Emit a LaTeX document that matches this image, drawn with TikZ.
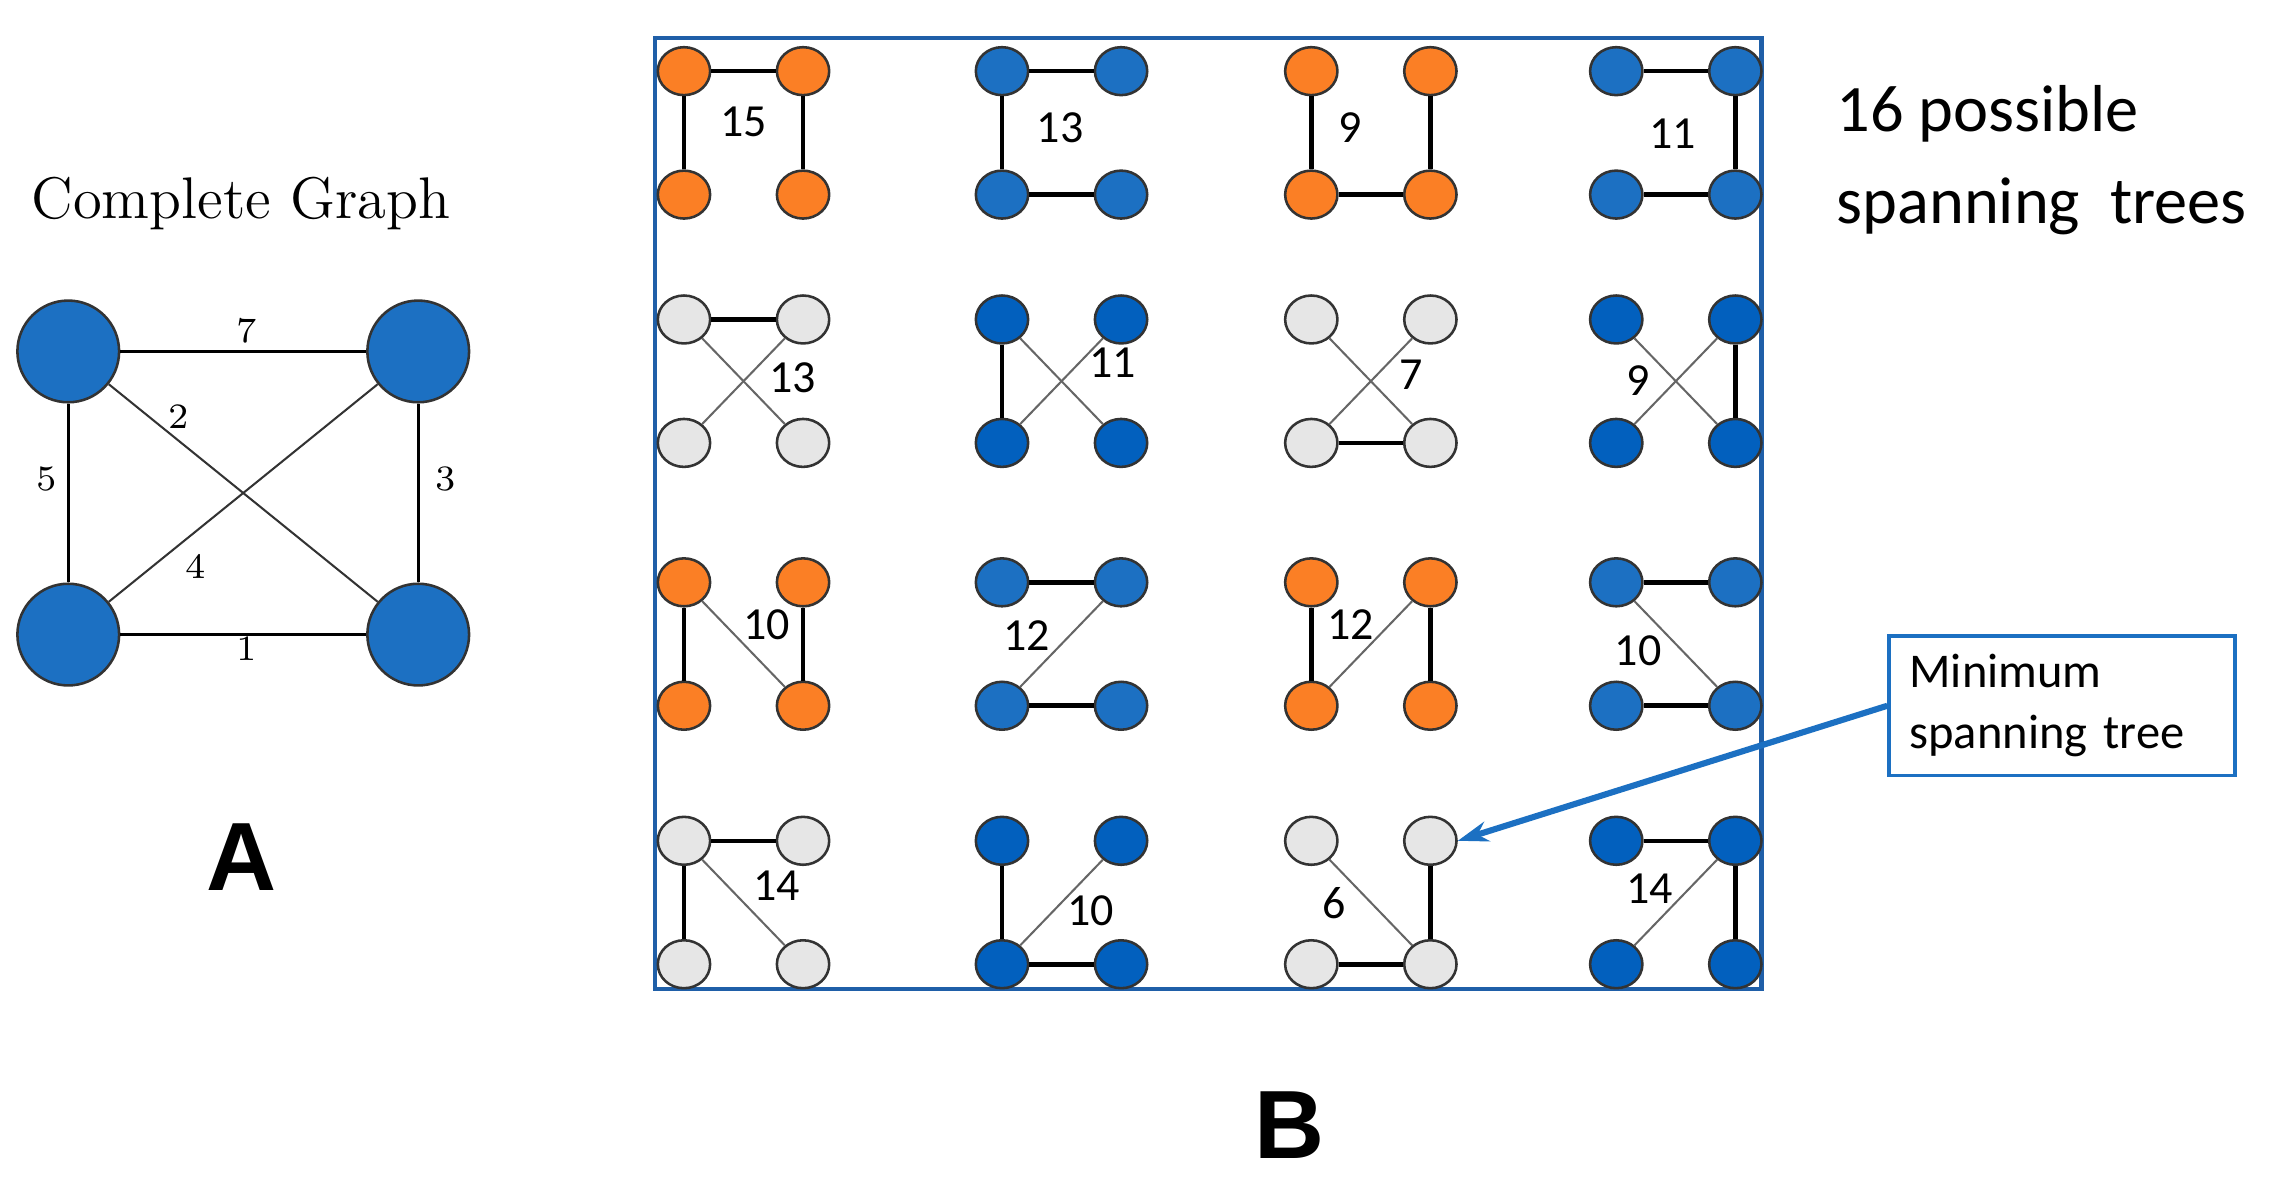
\documentclass[tikz,border=0pt]{standalone}
\usepackage{fontspec}
\usetikzlibrary{shapes.geometric,arrows.meta}
\newfontfamily\carl{Carlito}
\newfontfamily\lsans{Liberation Sans}
\definecolor{orng}{HTML}{FB7F25}
\definecolor{blu}{HTML}{1C70C2}
\definecolor{dblu}{HTML}{0260BE}
\definecolor{gry}{HTML}{E6E6E6}
\definecolor{frame}{HTML}{1F5FA8}
\tikzset{
  tn/.style={ellipse,draw=black!80,line width=0.5pt,minimum width=0.36cm,minimum height=0.33cm,inner sep=0pt},
  big/.style={circle,draw=black!80,fill=blu,line width=0.5pt,minimum size=0.7cm,inner sep=0pt},
  se/.style={black,line width=0.9pt},
  de/.style={black!60,line width=0.4pt},
  ce/.style={black,line width=0.5pt},
  wl/.style={font=\carl\fontsize{9}{10}\selectfont,inner sep=0pt},
  cl/.style={font=\fontsize{7}{8}\selectfont,inner sep=1pt}
}
\newcommand\sptree[6]{%
  \node[tn,fill=#4] (#1a) at (#2,-#3) {};
  \node[tn,fill=#4] (#1b) at (#2+82,-#3) {};
  \node[tn,fill=#4] (#1c) at (#2,-#3-85) {};
  \node[tn,fill=#4] (#1d) at (#2+82,-#3-85) {};
  \foreach \u/\v in {#5} {\draw[se] (#1\u) -- (#1\v);}
  \foreach \u/\v in {#6} {\draw[de] (#1\u) -- (#1\v);}
}
\begin{document}
\begin{tikzpicture}[x=0.01cm,y=0.01cm]
\useasboundingbox (0,0) rectangle (1568,-821.6);
% Panel A
\node[font=\fontsize{11.5}{13}\selectfont] (title) at (166,-140) {Complete Graph};
\node[big] (A1) at (47,-242) {};
\node[big] (A2) at (288,-242) {};
\node[big] (A3) at (47,-437) {};
\node[big] (A4) at (288,-437) {};
\draw[ce] (A1) -- (A2);
\draw[ce] (A1) -- (A3);
\draw[ce] (A2) -- (A4);
\draw[ce] (A3) -- (A4);
\draw[ce,black!80,line width=0.4pt] (A1) -- (A4);
\draw[ce,black!80,line width=0.4pt] (A3) -- (A2);
\node[cl] (l7) at (170,-228) {7};
\node[cl] (l5) at (32,-330) {5};
\node[cl] (l3) at (307,-330) {3};
\node[cl] (l1) at (170,-447) {1};
\node[cl] (l2) at (123,-287) {2};
\node[cl] (l4) at (135,-390) {4};
\node[font=\lsans\bfseries\fontsize{19}{20}\selectfont] (labA) at (166,-590) {A};
% Panel B frame
\draw[frame,line width=0.8pt] (451,-26) rectangle (1213,-681);
% Row 1
\sptree{p}{471}{49}{orng}{a/b,a/c,b/d}{}
\sptree{q}{690}{49}{blu}{a/b,a/c,c/d}{}
\sptree{r}{903}{49}{orng}{a/c,b/d,c/d}{}
\sptree{s}{1113}{49}{blu}{a/b,b/d,c/d}{}
% Row 2
\sptree{t}{471}{220}{gry}{a/b}{a/d,b/c}
\sptree{u}{690}{220}{dblu}{a/c}{a/d,b/c}
\sptree{v}{903}{220}{gry}{c/d}{a/d,b/c}
\sptree{w}{1113}{220}{dblu}{b/d}{a/d,b/c}
% Row 3
\sptree{x}{471}{401}{orng}{a/c,b/d}{a/d}
\sptree{y}{690}{401}{blu}{a/b,c/d}{b/c}
\sptree{z}{903}{401}{orng}{a/c,b/d}{b/c}
\sptree{o}{1113}{401}{blu}{a/b,c/d}{a/d}
% Row 4
\sptree{e}{471}{579}{gry}{a/b,a/c}{a/d}
\sptree{f}{690}{579}{dblu}{a/c,c/d}{b/c}
\sptree{g}{903}{579}{gry}{b/d,c/d}{a/d}
\sptree{h}{1113}{579}{dblu}{a/b,b/d}{b/c}
% weights
\node[wl] (w1) at (512,-84) {15};
\node[wl] (w2) at (730,-88) {13};
\node[wl] (w3) at (930,-88) {9};
\node[wl] (w4) at (1152,-92) {11};
\node[wl] (w5) at (546,-260) {13};
\node[wl] (w6) at (766,-250) {11};
\node[wl] (w7) at (972,-258) {7};
\node[wl] (w8) at (1128,-262) {9};
\node[wl] (w9) at (528,-430) {10};
\node[wl] (w10) at (707,-438) {12};
\node[wl] (w11) at (930,-430) {12};
\node[wl] (w12) at (1128,-448) {10};
\node[wl] (w13) at (535,-610) {14};
\node[wl] (w14) at (751,-627) {10};
\node[wl] (w15) at (919,-622) {6};
\node[wl] (w16) at (1136,-612) {14};
% right texts
\node[font=\carl\fontsize{13}{18}\selectfont,align=left,anchor=north west,inner sep=0pt] (sixteen) at (1264,-58) {16 possible\\spanning\ \ trees};
\node[draw=blu,line width=0.7pt,font=\carl\fontsize{9.5}{12}\selectfont,align=left,minimum width=2.2cm,minimum height=0.96cm,inner xsep=4pt,text width=2.1cm] (mst) at (1420,-486) {Minimum\\spanning tree};
\draw[blu,line width=1.2pt,-{Stealth[length=6pt,width=4pt]}] (mst.west) -- (gb.east);
\node[font=\lsans\bfseries\fontsize{19}{20}\selectfont] (labB) at (888,-775) {B};
\end{tikzpicture}
\end{document}
